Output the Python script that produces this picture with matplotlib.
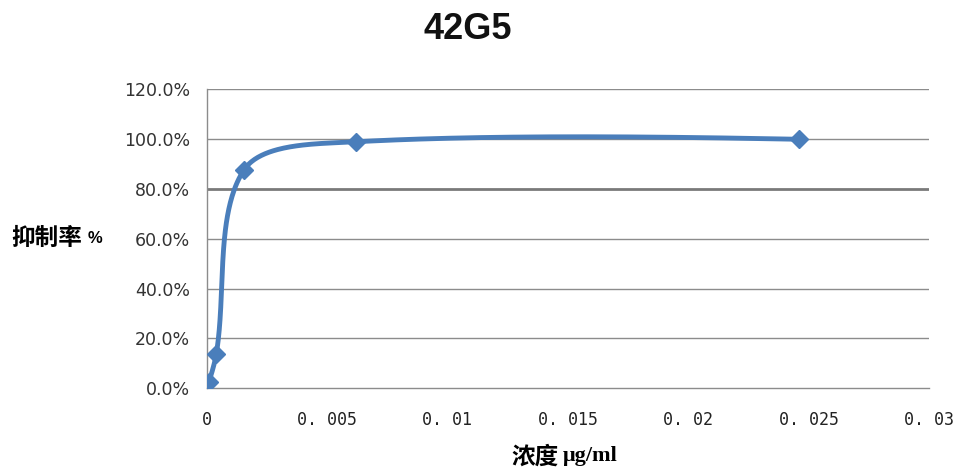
import numpy as np
import matplotlib.pyplot as plt

plt.rcParams['font.family'] = ['Noto Sans CJK SC', 'DejaVu Sans']

# data
conc = [0.0001, 0.0004, 0.00155, 0.0062, 0.0246]
inhib = [2.7, 13.8, 87.7, 99.0, 100.0]
xticks = [0, 0.005, 0.01, 0.015, 0.02, 0.025, 0.03]
xticklabels = ['0', '0. 005', '0. 01', '0. 015', '0. 02', '0. 025', '0. 03']
yticks = [0, 20, 40, 60, 80, 100, 120]


def excel_smooth(ax, xs, ys, n=80, f=1/3.):
    # Excel style smoothed line: bezier segments built in screen space
    pts = ax.transData.transform(np.column_stack([xs, ys]))
    k = len(pts)
    cin = pts.copy()
    cout = pts.copy()
    for i in range(1, k - 1):
        t = pts[i + 1] - pts[i - 1]
        dp = np.hypot(*(pts[i] - pts[i - 1]))
        dn = np.hypot(*(pts[i + 1] - pts[i]))
        cin[i] = pts[i] - t * f * dp / (dp + dn)
        cout[i] = pts[i] + t * f * dn / (dp + dn)
    cout[0] = pts[0] + (cin[1] - pts[0]) / 3
    cin[-1] = pts[-1] + (cout[-2] - pts[-1]) / 3
    s = np.linspace(0, 1, n)[:, None]
    out = []
    for i in range(k - 1):
        b = ((1 - s)**3 * pts[i] + 3 * (1 - s)**2 * s * cout[i]
             + 3 * (1 - s) * s**2 * cin[i + 1] + s**3 * pts[i + 1])
        out.append(b)
    out = np.vstack(out)
    d = ax.transData.inverted().transform(out)
    return d[:, 0], d[:, 1]


fig = plt.figure(figsize=(9.55, 4.71), dpi=100)
ax = fig.add_axes([0.2164, 0.1756, 0.7563, 0.6344])

ax.set_xlim(0, 0.03)
ax.set_ylim(0, 120)
ax.set_yticks(yticks)
ax.set_yticklabels(['%.1f%%' % v for v in yticks], fontsize=12.5,
                   family='DejaVu Sans', color='#333333')
ax.set_xticks(xticks)
ax.set_xticklabels(xticklabels, fontsize=12, family='DejaVu Sans Mono',
                   color='#222222')
ax.tick_params(axis='y', length=0, pad=12)
ax.tick_params(axis='x', length=0, pad=16)

for v in yticks[1:]:
    lw = 2.0 if v == 80 else 1.0
    c = '#7a7a7a' if v == 80 else '#8c8c8c'
    ax.axhline(v, color=c, lw=lw, zorder=1)

for s in ['top', 'right']:
    ax.spines[s].set_visible(False)
for s in ['left', 'bottom']:
    ax.spines[s].set_color('#8c8c8c')
    ax.spines[s].set_linewidth(1.0)

sx, sy = excel_smooth(ax, conc, inhib)
ax.plot(sx, sy, color='#4A7EBB', lw=3.5, zorder=3, solid_capstyle='round')
ax.plot(conc, inhib, 'D', color='#4A7EBB', ms=9, zorder=4)

fig.text(0.49, 0.937, '42G5', ha='center', va='center', fontsize=26,
         fontweight='bold', family=['Liberation Sans', 'DejaVu Sans'],
         color='#111111')
fig.text(0.012, 0.495, '抑制率', ha='left', va='center', fontsize=17,
         fontweight='bold')
fig.text(0.092, 0.493, '%', ha='left', va='center', fontsize=12,
         fontweight='bold', family=['Liberation Sans', 'DejaVu Sans'])
fig.text(0.536, 0.03, '浓度', ha='left', va='center', fontsize=17,
         fontweight='bold')
fig.text(0.589, 0.032, 'μg/ml', ha='left', va='center', fontsize=16,
         fontweight='bold', family=['Liberation Serif', 'DejaVu Serif'])

fig.savefig('out.png', dpi=100)
